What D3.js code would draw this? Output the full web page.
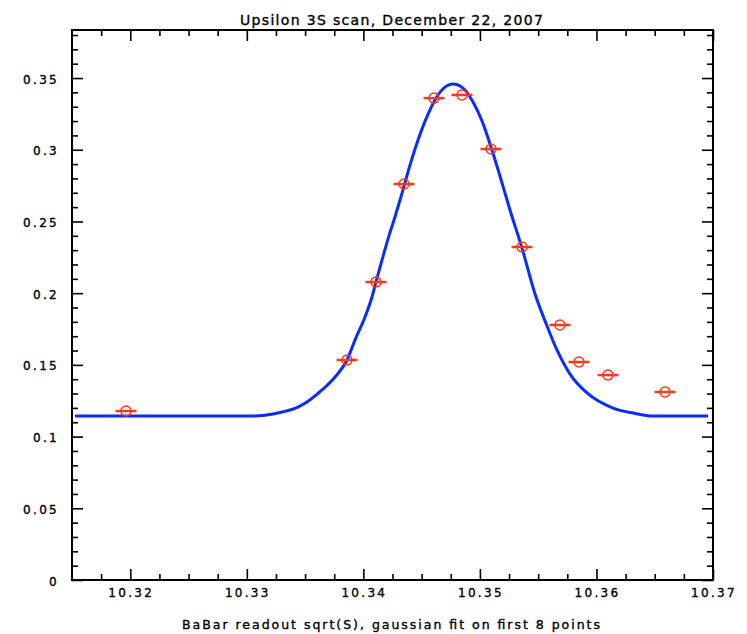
<!DOCTYPE html>
<html>
<head>
<meta charset="utf-8">
<script src="https://cdn.jsdelivr.net/npm/d3@7"></script>
<style>
  body { margin: 0; background: #fff; }
  svg text { font-family: "DejaVu Sans", sans-serif; fill: #000; stroke: #000; stroke-width: 0.35; }
</style>
</head>
<body>
<svg id="chart" width="747" height="634"></svg>
<script>
// measured points (beam energy readout vs. rate)
const pointX = [10.31963, 10.33860, 10.34108, 10.34349, 10.34606, 10.34846,
                10.35095, 10.35361, 10.35687, 10.35850, 10.36099, 10.36588];
const pointY = [0.1178, 0.1534, 0.2078, 0.2761, 0.3360, 0.3382,
                0.3005, 0.2322, 0.1778, 0.1520, 0.1429, 0.1311];
const pointXErr = [0.0009, 0.0009, 0.0009, 0.0009, 0.0009, 0.0009,
                   0.0009, 0.0009, 0.0009, 0.0009, 0.0009, 0.0009];

// gaussian fit curve
const fitX = [10.31526, 10.33053, 10.33225, 10.33302, 10.33370, 10.33439, 10.33516,
              10.33645, 10.33757, 10.33860, 10.33928, 10.34014, 10.34074, 10.34108,
              10.34160, 10.34211, 10.34271, 10.34332, 10.34400, 10.34469, 10.34555,
              10.34658, 10.34769, 10.34855, 10.34941, 10.35018, 10.35087, 10.35172,
              10.35258, 10.35361, 10.35473, 10.35576, 10.35661, 10.35773, 10.35919,
              10.36142, 10.36314, 10.36485, 10.36957];
const fitY = [0.1143, 0.1143, 0.1157, 0.1171, 0.1185, 0.1206, 0.1241,
              0.1325, 0.1415, 0.1534, 0.1673, 0.1834, 0.1973, 0.2078,
              0.2231, 0.2377, 0.2531, 0.2698, 0.2893, 0.3068, 0.3249,
              0.3402, 0.3458, 0.3430, 0.3333, 0.3200, 0.3040, 0.2817,
              0.2580, 0.2315, 0.1994, 0.1771, 0.1604, 0.1436, 0.1304,
              0.1199, 0.1164, 0.1143, 0.1143];

const xTicks = [10.32, 10.33, 10.34, 10.35, 10.36, 10.37];
const xTickLabels = ["10.32", "10.33", "10.34", "10.35", "10.36", "10.37"];
const yTicks = [0, 0.05, 0.1, 0.15, 0.2, 0.25, 0.3, 0.35];
const yTickLabels = ["0", "0.05", "0.1", "0.15", "0.2", "0.25", "0.3", "0.35"];

const titleText = "Upsilon 3S scan, December 22, 2007";
const xLabelText = "BaBar readout sqrt(S), gaussian fit on first 8 points";

// ==========================
// LAYOUT
// ==========================
const svg = d3.select("#chart");
const margin = { top: 30, right: 34, bottom: 54, left: 72 };
const width = 747 - margin.left - margin.right;
const height = 634 - margin.top - margin.bottom;

const x = d3.scaleLinear().domain([10.315, 10.37]).range([0, width]);
const y = d3.scaleLinear().domain([0, 0.3835]).range([height, 0]);

const g = svg.append("g").attr("transform", `translate(${margin.left},${margin.top})`);

// minor tick positions
const xMinor = d3.range(10.3175, 10.3701, 0.0025).filter(v => xTicks.every(t => Math.abs(t - v) > 1e-6));
const yMinor = d3.range(0.01, 0.381, 0.01).filter(v => yTicks.every(t => Math.abs(t - v) > 1e-6));

const major = 11, minor = 6;

function tickAxis(axisFn, scale, values, size, transform) {
  const a = g.append("g")
    .attr("transform", transform)
    .call(axisFn(scale).tickValues(values).tickSizeInner(-size).tickSizeOuter(0).tickFormat(""));
  a.select(".domain").remove();
  a.selectAll("line").attr("stroke", "#000").attr("stroke-width", 1.6);
  return a;
}

// ticks on all four sides, pointing inward
tickAxis(d3.axisBottom, x, xTicks, major, `translate(0,${height})`);
tickAxis(d3.axisBottom, x, xMinor, minor, `translate(0,${height})`);
tickAxis(d3.axisTop, x, xTicks, major, "translate(0,0)");
tickAxis(d3.axisTop, x, xMinor, minor, "translate(0,0)");
tickAxis(d3.axisLeft, y, yTicks, major, "translate(0,0)");
tickAxis(d3.axisLeft, y, yMinor, minor, "translate(0,0)");
tickAxis(d3.axisRight, y, yTicks, major, `translate(${width},0)`);
tickAxis(d3.axisRight, y, yMinor, minor, `translate(${width},0)`);

// tick labels
g.append("g").selectAll("text")
  .data(xTicks)
  .join("text")
  .attr("x", d => x(d) + 1)
  .attr("y", height + 17)
  .attr("text-anchor", "middle")
  .attr("font-size", 12)
  .attr("letter-spacing", 2.3)
  .text((d, i) => xTickLabels[i]);

g.append("g").selectAll("text")
  .data(yTicks)
  .join("text")
  .attr("x", -13)
  .attr("y", d => y(d) + 5.5)
  .attr("text-anchor", "end")
  .attr("font-size", 12)
  .attr("letter-spacing", 2.3)
  .text((d, i) => yTickLabels[i]);

// frame
g.append("rect")
  .attr("width", width)
  .attr("height", height)
  .attr("fill", "none")
  .attr("stroke", "#000")
  .attr("stroke-width", 2);

// fit curve
const fitData = fitX.map((v, i) => [v, fitY[i]]);
g.append("path")
  .datum(fitData)
  .attr("fill", "none")
  .attr("stroke", "#0a2cff")
  .attr("stroke-width", 3)
  .attr("d", d3.line().x(d => x(d[0])).y(d => y(d[1])).curve(d3.curveMonotoneX));

// data points with horizontal error bars
const pts = pointX.map((v, i) => ({ x: v, y: pointY[i], e: pointXErr[i] }));
const pg = g.append("g");
pg.selectAll("line")
  .data(pts)
  .join("line")
  .attr("x1", d => x(d.x - d.e))
  .attr("x2", d => x(d.x + d.e))
  .attr("y1", d => y(d.y))
  .attr("y2", d => y(d.y))
  .attr("stroke", "#ff3a1a")
  .attr("stroke-width", 2.5);
pg.selectAll("circle")
  .data(pts)
  .join("circle")
  .attr("cx", d => x(d.x))
  .attr("cy", d => y(d.y))
  .attr("r", 5)
  .attr("fill", "none")
  .attr("stroke", "#ff3a1a")
  .attr("stroke-width", 1.5);

// title and axis label
svg.append("text")
  .attr("x", 391.5)
  .attr("y", 25)
  .attr("text-anchor", "middle")
  .attr("font-size", 14)
  .attr("textLength", 303)
  .attr("lengthAdjust", "spacing")
  .text(titleText);

svg.append("text")
  .attr("x", 391)
  .attr("y", 629)
  .attr("text-anchor", "middle")
  .attr("font-size", 12.5)
  .attr("textLength", 418)
  .attr("lengthAdjust", "spacing")
  .text(xLabelText);
</script>
</body>
</html>
